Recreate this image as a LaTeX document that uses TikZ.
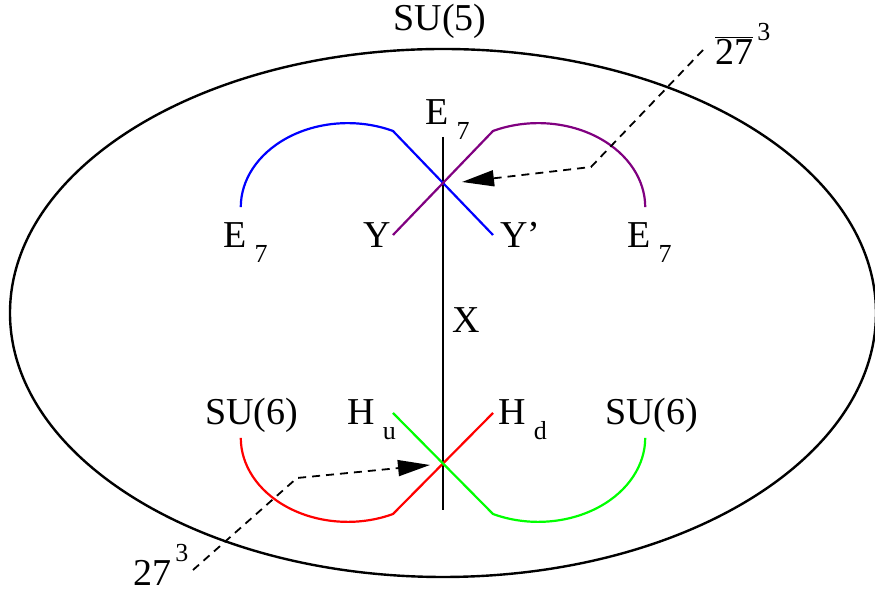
\documentclass[tikz,border=0pt]{standalone}
\usepackage{fontspec}
\setmainfont{Liberation Serif}
\usetikzlibrary{arrows.meta}

\newcommand{\lowix}[2]{#1\hspace{4pt}\raisebox{-7.5pt}{\fontsize{13}{14}\selectfont #2}}
\newcommand{\highix}[2]{#1\hspace{2pt}\raisebox{12pt}{\fontsize{13}{14}\selectfont #2}}

\begin{document}
\begin{tikzpicture}[x=0.5pt, y=0.5pt,
lbl/.style={font=\fontsize{19}{22}\selectfont, inner sep=0pt, anchor=base west},
brane/.style={line width=1.1pt},
flux/.style={dashed, dash pattern=on 4pt off 3pt, line width=0.9pt, -{Triangle[length=16pt, width=8pt]}}
]
\useasboundingbox (0,0) rectangle (875,594);

\coordinate (su5) at (443,281);
\draw[line width=1.2pt] (su5) ellipse [x radius=433, y radius=264];
\node[lbl, anchor=base] (su5lbl) at (440,563) {SU(5)};

\coordinate (topend) at (443,457);
\coordinate (botend) at (443,84);
\draw[brane] (topend) -- (botend);
\node[lbl] (xlbl) at (452,261) {X};

\coordinate (yp) at (493,359);
\coordinate (yy) at (393,359);
\draw[brane, blue] (yp) -- ++(-100,104) arc[start angle=65, end angle=180, x radius=107, y radius=84];
\draw[brane, violet] (yy) -- ++(100,104) arc[start angle=115, end angle=0, x radius=107, y radius=84];

\coordinate (hd) at (493,181);
\coordinate (hu) at (393,181);
\draw[brane, red] (hd) -- ++(-100,-101) arc[start angle=-65, end angle=-180, x radius=107, y radius=84];
\draw[brane, green] (hu) -- ++(100,-101) arc[start angle=-115, end angle=0, x radius=107, y radius=84];

\node[lbl] (e7top) at (425,469) {\lowix{E}{7}};
\node[lbl] (e7left) at (223,346) {\lowix{E}{7}};
\node[lbl] (e7right) at (627,346) {\lowix{E}{7}};
\node[lbl] (ylbl) at (363,346) {Y};
\node[lbl] (yplbl) at (500,346) {Y’};

\node[lbl] (su6left) at (205,169) {SU(6)};
\node[lbl] (su6right) at (605,169) {SU(6)};
\node[lbl] (hulbl) at (347,169) {\lowix{H}{u}};
\node[lbl] (hdlbl) at (498,169) {\lowix{H}{d}};

\node[lbl] (barlbl) at (715,529) {\highix{$\overline{\mbox{27}}$}{3}};
\node[lbl] (lbl27) at (133,8) {\highix{27}{3}};

\coordinate (topfrom) at (703,544);
\coordinate (topbend) at (591,427);
\coordinate (toptip) at (462,412);
\draw[flux] (topfrom) -- (topbend) -- (toptip);

\coordinate (botfrom) at (193,24);
\coordinate (botbend) at (297,116);
\coordinate (bottip) at (430,129);
\draw[flux] (botfrom) -- (botbend) -- (bottip);
\end{tikzpicture}
\end{document}
